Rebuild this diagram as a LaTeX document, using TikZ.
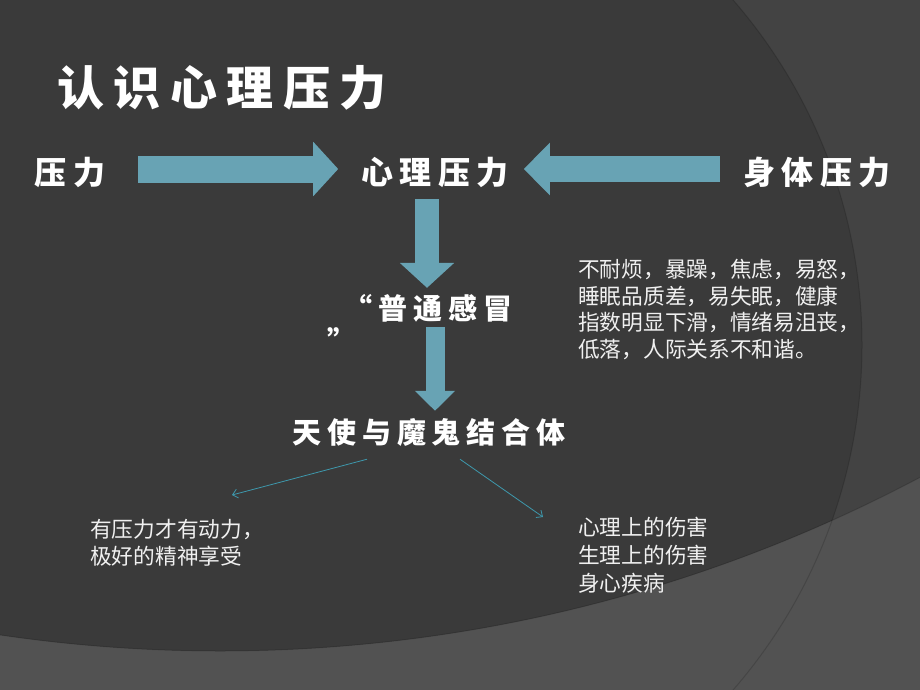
\documentclass[tikz,border=0pt]{standalone}
\usepackage{fontspec}
\newfontfamily\cjk{Noto Sans CJK SC}
\newfontfamily\brush[LetterSpace=20]{Noto Sans CJK SC}
\usetikzlibrary{arrows.meta}
\definecolor{bgdark}{HTML}{3A3A3A}
\definecolor{bgmid}{HTML}{434343}
\definecolor{bglow}{HTML}{525252}
\definecolor{pipeblue}{HTML}{68A3B4}
\definecolor{lineteal}{HTML}{3E98AC}

\begin{document}
\begin{tikzpicture}[x=1pt, y=-1pt,
    brushtext/.style={text=white, inner sep=0pt, font=\brush\bfseries\fontsize{#1}{#1}\selectfont},
    brushtext/.default=32,
    bodytext/.style={text=white!94!black, inner sep=0pt, anchor=north west, align=left, font=\cjk\fontsize{21.7}{#1}\selectfont},
    bodytext/.default=27,
    pipe/.style={draw=pipeblue, line cap=butt},
    thinarrow/.style={draw=lineteal, line width=0.8pt, -{Straight Barb[length=5pt,width=9pt]}}
]
    \useasboundingbox (0,0) rectangle (920,690);

    % Background
    \begin{scope}
        \clip (0,0) rectangle (920,690);
        \fill[bglow] (0,0) rectangle (920,690);
        \fill[bgmid] (220,-844) circle[radius=1495pt];
        \clip (220,-844) circle[radius=1495pt];
        \fill[bgdark] (336,345) circle[radius=526pt];
    \end{scope}
    \begin{scope}
        \clip (0,0) rectangle (920,690);
        \draw[black, opacity=0.15, line width=1pt] (336,345) circle[radius=526pt];
        \draw[black, opacity=0.15, line width=1pt] (220,-844) circle[radius=1495pt];
    \end{scope}

    % Title
    \node[brushtext=47] (title) at (222,88) {认识心理压力};

    % Stress sources
    \node[brushtext] (yali) at (70,172) {压力};
    \node[brushtext] (xinli) at (435,172) {心理压力};
    \node[brushtext] (shenti) at (817,172) {身体压力};

    % Cold
    \node[brushtext=29] (putong) at (428,308) {“普通感冒};
    \node[brushtext=29] (putongend) at (342,340) {”};

    % Angel and devil
    \node[brushtext=29] (tianshi) at (429,432) {天使与魔鬼结合体};

    % Texts
    \node[bodytext=26.7] (symptom) at (578,259) {不耐烦，暴躁，焦虑，易怒，\\睡眠品质差，易失眠，健康\\指数明显下滑，情绪易沮丧，\\低落，人际关系不和谐。};
    \node[bodytext] (good) at (90,519) {有压力才有动力，\\极好的精神享受};
    \node[bodytext=28] (harm) at (578,517) {心理上的伤害\\生理上的伤害\\身心疾病};

    % Block arrows
    \draw[pipe, line width=27pt, -{Triangle[length=25pt,width=53pt]}] ([xshift=33pt,yshift=3pt]yali.east) -- ([xshift=-23pt,yshift=3pt]xinli.west);
    \draw[pipe, line width=26pt, -{Triangle[length=26pt,width=51pt]}] ([xshift=-23pt,yshift=3pt]shenti.west) -- ([xshift=15pt,yshift=3pt]xinli.east);
    \draw[pipe, line width=24pt, -{Triangle[length=25pt,width=53pt]}] ([xshift=-8pt,yshift=-12pt]xinli.south) -- ([xshift=-1pt,yshift=6pt]putong.north);
    \draw[pipe, line width=19pt, -{Triangle[length=20pt,width=39pt]}] ([xshift=7pt,yshift=-5pt]putong.south) -- ([xshift=6pt,yshift=7pt]tianshi.north);

    % Thin arrows
    \coordinate (goodend) at (232,495);
    \coordinate (harmend) at (543,517);
    \draw[thinarrow] ([xshift=-62pt,yshift=-13pt]tianshi.south) -- (goodend);
    \draw[thinarrow] ([xshift=31pt,yshift=-13pt]tianshi.south) -- (harmend);
\end{tikzpicture}
\end{document}
